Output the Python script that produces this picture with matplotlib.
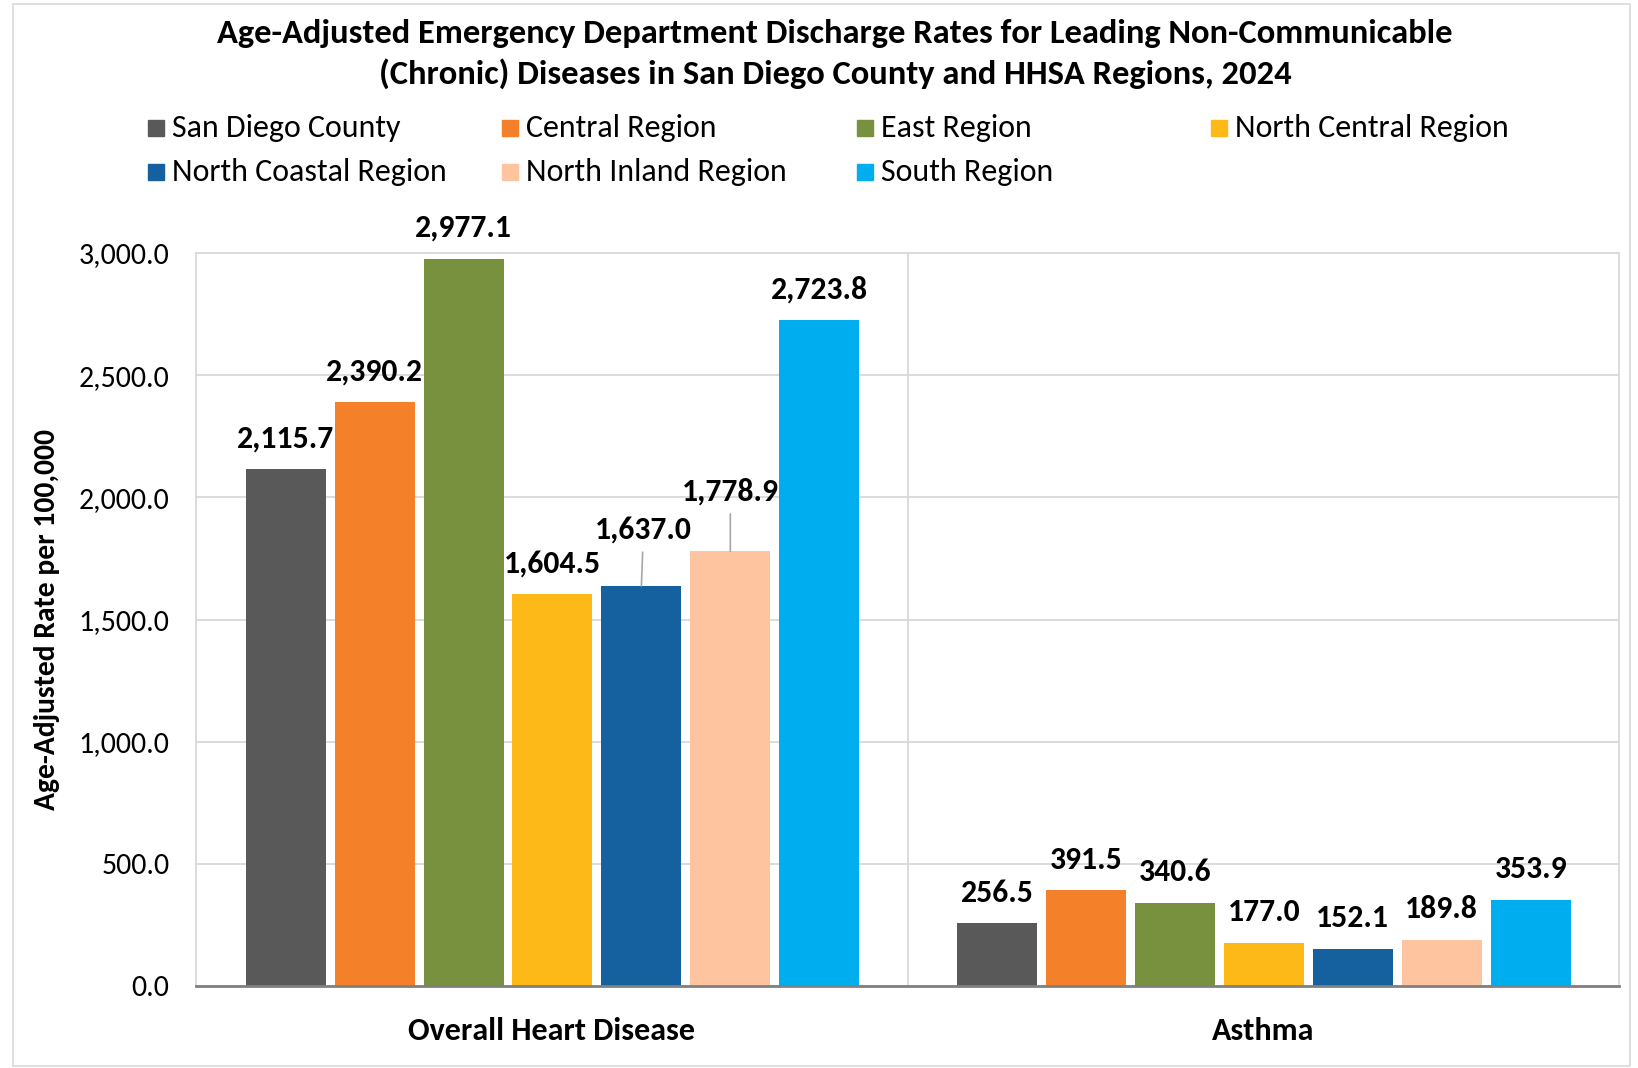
import matplotlib
matplotlib.use('Agg')
import matplotlib.pyplot as plt
from matplotlib import font_manager
from matplotlib.patches import Rectangle
import numpy as np

categories = ["Overall Heart Disease", "Asthma"]
series_names = ["San Diego County", "Central Region", "East Region",
                "North Central Region", "North Coastal Region",
                "North Inland Region", "South Region"]
heart = [2115.7, 2390.2, 2977.1, 1604.5, 1637.0, 1778.9, 2723.8]
asthma = [256.5, 391.5, 340.6, 177.0, 152.1, 189.8, 353.9]
yticks = [0, 500, 1000, 1500, 2000, 2500, 3000]
colors = ["#595959", "#F4812A", "#77913F", "#FDB918", "#1561A0", "#FDC49F", "#00AEEF"]

avail = {f.name for f in font_manager.fontManager.ttflist}
fam = next((f for f in ["Carlito", "Liberation Sans Narrow", "Roboto Condensed", "Roboto"]
            if f in avail), "DejaVu Sans")
plt.rcParams['font.family'] = [fam, 'DejaVu Sans']

W, H = 1638, 1068
fig = plt.figure(figsize=(W / 100, H / 100), dpi=100)
fig.patch.set_facecolor('white')

ax = fig.add_axes([196 / W, 1 - 986 / H, (1619 - 196) / W, (986 - 253) / H])

values = np.array([heart, asthma]).T  # series x category
x = np.arange(len(categories))
slot = 0.125
bw = 0.1125
special = {(0, 4): (1.5, 40.5), (0, 5): (0, 43)}
for i, name in enumerate(series_names):
    xs = x + (i - 3) * slot + 0.001
    ax.bar(xs, values[i], width=bw, color=colors[i], zorder=3, label=name)
    for j, v in enumerate(values[i]):
        dx, dy = special.get((j, i), (0, 22))
        kw = {}
        if (j, i) in special:
            kw['arrowprops'] = dict(arrowstyle='-', color='#A6A6A6', lw=1.2,
                                    shrinkA=4, shrinkB=0)
        ax.annotate(f"{v:,.1f}", xy=(xs[j], v), xytext=(dx, dy),
                    textcoords='offset points', ha='center', va='center',
                    fontsize=22.8, fontweight='bold', color='black', **kw)

ax.set_xlim(-0.5, 1.5)
ax.set_ylim(0, 3000)
ax.set_yticks(yticks)
ax.set_yticklabels([f"{t:,.1f}" for t in yticks], fontsize=21.5)
ax.set_xticks(x)
ax.set_xticklabels(categories, fontsize=23, fontweight='bold')
ax.tick_params(axis='y', length=0, pad=19)
ax.tick_params(axis='x', length=0, pad=22.5)
ax.yaxis.grid(True, color='#D9D9D9', lw=1.3, zorder=0)
ax.set_axisbelow(True)
ax.axvline(0.5, color='#D9D9D9', lw=1.3, zorder=1)
for s in ['left', 'right', 'top']:
    ax.spines[s].set_color('#D9D9D9')
    ax.spines[s].set_linewidth(1.3)
ax.spines['bottom'].set_color('#808080')
ax.spines['bottom'].set_linewidth(2)
ax.spines['bottom'].set_zorder(4)

fig.text(47 / W, 1 - 620 / H, "Age-Adjusted Rate per 100,000", rotation=90,
         ha='center', va='center', fontsize=21.3, fontweight='bold')

fig.text(835 / W, 1 - 33 / H,
         "Age-Adjusted Emergency Department Discharge Rates for Leading Non-Communicable",
         ha='center', va='center', fontsize=24.8, fontweight='bold')
fig.text(835 / W, 1 - 74 / H,
         "(Chronic) Diseases in San Diego County and HHSA Regions, 2024",
         ha='center', va='center', fontsize=24.8, fontweight='bold')

# legend (4 columns, 2 rows, row-major like the source)
col_left = [148, 502, 857, 1211]
row_y = [128, 172]
sq = 16
for i, name in enumerate(series_names):
    r, c = divmod(i, 4)
    lx, ly = col_left[c], row_y[r]
    fig.add_artist(Rectangle((lx / W, 1 - (ly + sq / 2) / H), sq / W, sq / H,
                             transform=fig.transFigure, color=colors[i]))
    fig.text((lx + sq + 8) / W, 1 - ly / H, name, ha='left', va='center',
             fontsize=23)

fig.add_artist(Rectangle((13 / W, 2 / H), (1630 - 13) / W, (1064 - 2) / H,
                         transform=fig.transFigure, fill=False,
                         ec='#D9D9D9', lw=1.2))

fig.savefig('out.png', dpi=100, facecolor='white')
